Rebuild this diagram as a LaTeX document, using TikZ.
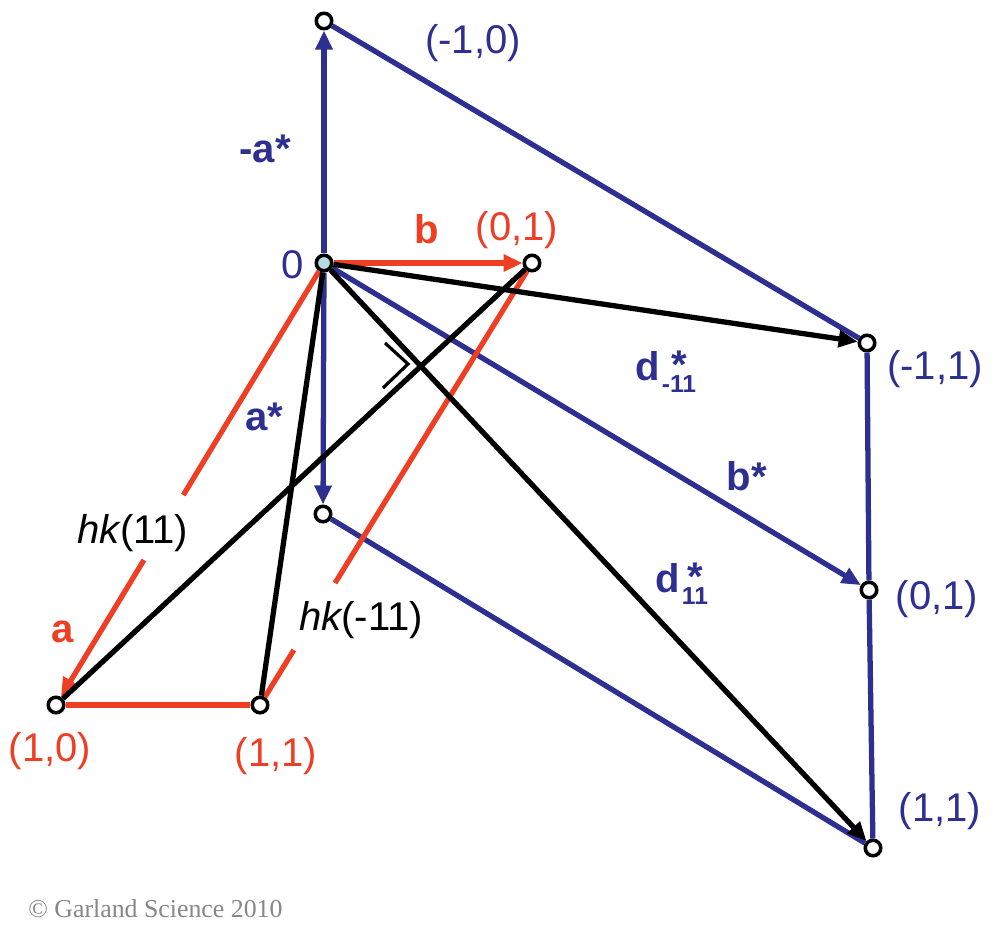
\documentclass[tikz,border=0pt]{standalone}
\usepackage{fontspec}
\setmainfont{Liberation Sans}
\newfontfamily\copyfont{Liberation Serif}
\usetikzlibrary{arrows.meta,calc}
\definecolor{navyb}{RGB}{45,48,145}
\definecolor{redc}{RGB}{238,62,36}
\definecolor{origfill}{RGB}{180,220,226}
\definecolor{copygray}{RGB}{135,135,135}
\newsavebox\subbox
\newcommand{\dlab}[1]{\sbox\subbox{\fontsize{14}{16}\selectfont\bfseries #1}\textbf{d}\kern1.2pt\makebox[0pt][l]{\makebox[\wd\subbox][c]{\bfseries\raisebox{0.05em}{*}}}\raisebox{-0.3em}{\usebox\subbox}}
\begin{document}
\begin{tikzpicture}[x=0.02cm,y=-0.02cm,
  pt/.style={circle,draw=black,fill=white,line width=2pt,minimum size=0.31cm,inner sep=0pt},
  bl/.style={draw=navyb,line width=3pt},
  rd/.style={draw=redc,line width=3pt},
  bk/.style={draw=black,line width=3pt},
  arr/.style={-{Triangle[length=0.38cm,width=0.33cm]}},
  lab/.style={anchor=base,inner sep=0pt,font=\fontsize{22.8}{27}\selectfont},
  blab/.style={lab,text=navyb},
  rlab/.style={lab,text=redc},
  klab/.style={lab,text=black}]
\useasboundingbox (0,0) rectangle (1000,943);
\fill[white] (0,0) rectangle (1000,943);

% points
\node[pt,fill=origfill] (O) at (324,263) {};
\node[pt] (T) at (324,21) {};
\node[pt] (B) at (323,514) {};
\node[pt] (R01) at (532,263) {};
\node[pt] (Bm11) at (867,343) {};
\node[pt] (B01) at (869,590) {};
\node[pt] (B11) at (873,848) {};
\node[pt] (R10) at (56,705) {};
\node[pt] (R11) at (260,705) {};

% gap coordinates on the red lines
\coordinate (ga1) at ($(O.center)!0.525!(R10.center)$);
\coordinate (ga2) at ($(O.center)!0.672!(R10.center)$);
\coordinate (gb1) at ($(R01.center)!0.724!(R11.center)$);
\coordinate (gb2) at ($(R01.center)!0.8756!(R11.center)$);

% blue lattice
\draw[bl] (T) -- (Bm11);
\draw[bl] (Bm11) -- (B01);
\draw[bl] (B01) -- (B11);
\draw[bl] (B) -- (B11);
\draw[bl,arr] (O) -- (T);
\draw[bl,arr] (O) -- (B);
\draw[bl,arr] (O) -- (B01);

% red lattice
\draw[rd,arr] (O) -- (R01);
\draw[rd] (O) -- (ga1);
\draw[rd,arr] (ga2) -- (R10);
\draw[rd] (R01) -- (gb1);
\draw[rd] (gb2) -- (R11);
\draw[rd] (R10) -- (R11);

% black lines
\draw[bk] (R10) -- (R01);
\draw[bk] (O) -- (R11);
\draw[bk,arr] (O) -- (Bm11);
\draw[bk,arr] (O) -- (B11);

% right-angle mark
\draw[black,line width=1.8pt,miter limit=10] (385,343) -- (408,364) -- (383,388);

% labels
\node[blab] (lm10) at (473,53) {(-1,0)};
\node[blab] (lmastar) at (265,162) {\textbf{-a*}};
\node[blab] (l0) at (293,278) {0};
\node[rlab] (lb) at (427,243) {\textbf{b}};
\node[rlab] (lr01) at (517,240) {(0,1)};
\node[blab,anchor=base west] (ldm11) at (635,380) {\dlab{-11}};
\node[blab] (lbm11) at (935,379) {(-1,1)};
\node[blab] (lbstar) at (747,490) {\textbf{b*}};
\node[blab] (lb01) at (937,609) {(0,1)};
\node[blab,anchor=base west] (ld11) at (655,592) {\dlab{11}};
\node[blab] (lb11) at (940,821) {(1,1)};
\node[blab] (lastar) at (264,430) {\textbf{a*}};
\node[klab] (lhk11) at (133,543) {{\itshape hk}(11)};
\node[klab] (lhkm11) at (361,630) {{\itshape hk}(-11)};
\node[rlab] (la) at (63,642) {\textbf{a}};
\node[rlab] (lr10) at (50,761) {(1,0)};
\node[rlab] (lr11) at (276,766) {(1,1)};
\node[anchor=base west,inner sep=0pt,text=copygray,font=\copyfont\fontsize{14.7}{17}\selectfont] (copy) at (28,917) {© Garland Science 2010};
\end{tikzpicture}
\end{document}
